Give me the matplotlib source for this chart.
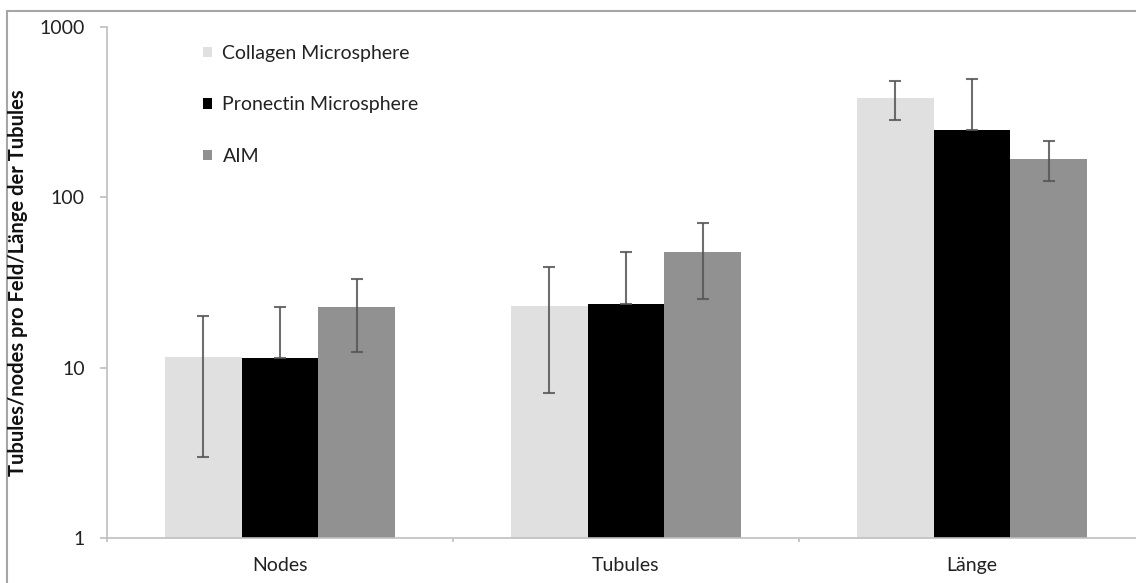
import matplotlib
matplotlib.use("Agg")
import matplotlib.pyplot as plt
import numpy as np
from matplotlib.patches import Rectangle
from matplotlib.ticker import FixedLocator, NullLocator

plt.rcParams['font.family'] = ['Lato', 'DejaVu Sans']

categories = ["Nodes", "Tubules", "Länge"]
series_names = ["Collagen Microsphere", "Pronectin Microsphere", "AIM"]
collagen = [11.6, 23.0, 383]
collagen_err = [8.6, 15.9, 97]
pronectin = [11.4, 23.7, 249]
pronectin_err_up = [11.3, 24.1, 247]
aim = [22.7, 47.8, 169]
aim_err = [10.3, 22.5, 45]
y_ticks = [1, 10, 100, 1000]
y_label = "Tubules/nodes pro Feld/Länge der Tubules"

colors = ["#e0e0e0", "#000000", "#919191"]
err_color = "#555555"

W, H = 1136, 583
fig = plt.figure(figsize=(W / 100, H / 100), dpi=100)

# outer chart frame
fig.add_artist(Rectangle((7 / W, -0.05), 1.2, 1 - 10.5 / H + 0.05,
                         transform=fig.transFigure, fill=False,
                         edgecolor="#a6a6a6", linewidth=1.5))

ax_left, ax_right = 107, 1145
ax_top, ax_bottom = 27, 538
ax = fig.add_axes([ax_left / W, (H - ax_bottom) / H,
                   (ax_right - ax_left) / W, (ax_bottom - ax_top) / H])

x = np.arange(len(categories)) + 0.5
bw = 0.222
ekw = dict(ecolor=err_color, elinewidth=1.5, capsize=4.5, capthick=1.5, alpha=0.85)

ax.bar(x - bw, collagen, bw, color=colors[0], label=series_names[0],
       yerr=collagen_err, error_kw=ekw, zorder=2)
ax.bar(x, pronectin, bw, color=colors[1], label=series_names[1],
       yerr=[np.zeros(len(pronectin)), pronectin_err_up], error_kw=ekw, zorder=2)
ax.bar(x + bw, aim, bw, color=colors[2], label=series_names[2],
       yerr=aim_err, error_kw=ekw, zorder=2)

ax.set_yscale("log")
ax.set_ylim(1, 1000)
ax.set_xlim(0, 3)
ax.yaxis.set_major_locator(FixedLocator(y_ticks))
ax.yaxis.set_minor_locator(NullLocator())
ax.set_yticklabels([str(v) for v in y_ticks])
ax.set_xticks(x)
ax.set_xticklabels(categories)
ax.xaxis.set_minor_locator(FixedLocator([0, 1, 2, 3]))
ax.tick_params(axis="x", which="major", length=0, pad=14, labelsize=14, labelcolor="#222222")
ax.tick_params(axis="x", which="minor", length=3, color="#bfbfbf", width=1.2)
ax.tick_params(axis="y", length=5, color="#bfbfbf", width=1.2, pad=11,
               labelsize=14, labelcolor="#222222")

for side in ["top", "right"]:
    ax.spines[side].set_visible(False)
for side in ["left", "bottom"]:
    ax.spines[side].set_color("#bfbfbf")
    ax.spines[side].set_linewidth(1.2)

fig.text(18 / W, 1 - 283 / H, y_label, rotation=90, ha="center", va="center",
         fontsize=14.5, fontweight="bold", color="#111111")

leg = ax.legend(loc="upper left",
                bbox_to_anchor=((203 - ax_left) / (ax_right - ax_left), (ax_bottom - 45) / (ax_bottom - ax_top)),
                frameon=False, fontsize=14, handlelength=0.45, handleheight=0.45,
                handletextpad=0.55, labelspacing=1.77, borderaxespad=0, borderpad=0)
for t in leg.get_texts():
    t.set_color("#222222")

fig.savefig("out.png", dpi=100)
